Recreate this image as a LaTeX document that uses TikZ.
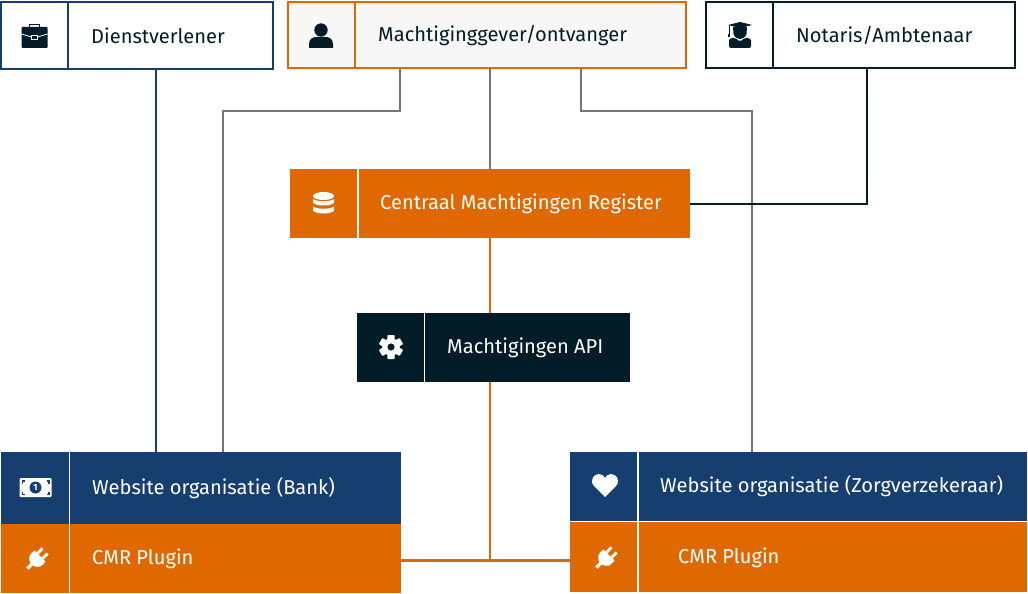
\documentclass[tikz,border=0pt]{standalone}
\usepackage{fontspec}
\setmainfont{Fira Sans}
\definecolor{navy}{HTML}{163F70}
\definecolor{ora}{HTML}{DF6900}
\definecolor{ink}{HTML}{021C28}
\definecolor{gry}{HTML}{757575}
\definecolor{pale}{HTML}{F7F7F7}
\tikzset{
  x=1pt,y=-1pt,
  box/.style={draw=#1,line width=2pt,fill=white},
  fbox/.style={fill=#1},
  lab/.style={anchor=west,inner sep=0pt,font=\fontsize{20.1}{24}\selectfont,text=#1},
  link/.style={draw=#1,line width=2.2pt},
  ic/.style={fill=#1,draw=none},
}
\newcommand{\bx}[6]{% name, x1,y1,x2,y2, options
  \path[#6] (#2,#3) rectangle (#4,#5);
  \coordinate (#1-nw) at (#2,#3);
  \coordinate (#1-se) at (#4,#5);
}
\begin{document}
\begin{tikzpicture}
\useasboundingbox[fill=white] (0,0) rectangle (1028,594);
% anchors
\coordinate (d) at (156,69);
\coordinate (m1) at (400,69);
\coordinate (m2) at (490,69);
\coordinate (m3) at (581,69);
\coordinate (n) at (867,68);
\coordinate (bt) at (156,452);
\coordinate (bt2) at (223,452);
\coordinate (zt) at (752,452);
\coordinate (ct) at (490,169);
\coordinate (cb) at (490,238);
\coordinate (cr) at (690,204);
\coordinate (at) at (490,313);
\coordinate (ab) at (490,382);
\coordinate (pl) at (401,560.5);
\coordinate (pr) at (570,560.5);
\coordinate (j) at (490,560.5);
% connectors
\draw[link=navy] (d) -- (bt);
\draw[link=gry] (m1) -- ++(0,42) -| (bt2);
\draw[link=gry] (m2) -- (ct);
\draw[link=gry] (m3) -- ++(0,42) -| (zt);
\draw[link=ink] (cr) -| (n);
\draw[link=ora] (cb) -- (at);
\draw[link=ora] (ab) -- (j);
\draw[link=ora] (pl) -- (pr);
% boxes
\bx{b1}{1}{2}{273}{69}{box=navy}
\draw[navy,line width=2pt] (68,2) -- (68,69);
\bx{b2}{288}{2}{686}{68}{draw=ora,line width=2pt,fill=pale}
\draw[ora,line width=2pt] (355,2) -- (355,68);
\bx{b3}{706}{2}{1015}{68}{box=ink}
\draw[ink,line width=2pt] (773,2) -- (773,68);
\bx{b4}{290}{169}{690}{238}{fbox=ora}
\draw[white,line width=2pt] (357.5,169) -- (357.5,238);
\bx{b5}{357}{313}{630}{382}{fbox=ink}
\draw[white,line width=1.6pt] (424.5,313) -- (424.5,382);
\bx{b6}{1}{452}{401}{523.5}{fbox=navy}
\bx{b7}{1}{523.5}{401}{593}{fbox=ora}
\draw[white,line width=1.6pt] (69.5,452) -- (69.5,593);
\bx{b8}{570}{452}{1027}{521}{fbox=navy}
\bx{b9}{570}{522}{1027}{592}{fbox=ora}
\draw[white,line width=2pt] (638,452) -- (638,592);
\draw[white,line width=1pt] (570,521.5) -- (1027,521.5);
% labels
\node[lab=ink] (t1) at (91,36) {Dienstverlener};
\node[lab=ink] (t2) at (378,36) {Machtiginggever/ontvanger};
\node[lab=ink] (t3) at (796,35) {Notaris/Ambtenaar};
\node[lab=white] (t4) at (380,204) {Centraal Machtigingen Register};
\node[lab=white] (t5) at (447,348) {Machtigingen API};
\node[lab=white] (t6) at (92,488) {Website organisatie (Bank)};
\node[lab=white] (t7) at (92,559) {CMR Plugin};
\node[lab=white] (t8) at (660,486.5) {Website organisatie (Zorgverzekeraar)};
\node[lab=white] (t9) at (678,558) {CMR Plugin};
% briefcase
\begin{scope}[shift={(34.5,36)}]
  \draw[ink,line width=1.4pt] (-5,-9) -- (-5,-11.5) -- (5,-11.5) -- (5,-9);
  \fill[ink,rounded corners=1pt] (-13,-9) rectangle (13,12);
  \draw[white,line width=.8pt] (-13,-2) -- (-3,1) (3,1) -- (13,-2);
  \draw[white,line width=.8pt] (-3,-.5) rectangle (3,3);
\end{scope}
% person
\begin{scope}[shift={(321,36)}]
  \fill[ink] (0,-6) circle (6.7);
  \fill[ink] (-12,12) -- (-12,8) .. controls (-12,2) and (-7,1) .. (-4,1) -- (4,1) .. controls (7,1) and (12,2) .. (12,8) -- (12,12) -- cycle;
\end{scope}
% graduate
\begin{scope}[shift={(740,35)}]
  \fill[ink] (-12,-10) -- (0,-13) -- (12,-10) -- (0,-7) -- cycle;
  \fill[ink] (-7,-8) -- (7,-8) -- (6.5,-1) .. controls (5,3) and (2,4) .. (0,4) .. controls (-2,4) and (-5,3) .. (-6.5,-1) -- cycle;
  \fill[ink] (-11.5,-10) rectangle (-10.5,-1);
  \fill[ink] (-12,-1) rectangle (-10,2);
  \fill[ink,rounded corners=2pt] (-11,13) -- (-11,7) .. controls (-11,4) and (-8,3) .. (-5,2.5) -- (0,7) -- (5,2.5) .. controls (8,3) and (11,4) .. (11,7) -- (11,13) -- cycle;
\end{scope}
% database
\begin{scope}[shift={(323.5,203.5)}]
  \fill[white] (0,-7.5) ellipse (10.5 and 4);
  \fill[white] (-10.5,-4.5) .. controls (-7,-1.5) and (7,-1.5) .. (10.5,-4.5) -- (10.5,-1) .. controls (8,3) and (-8,3) .. (-10.5,-1) -- cycle;
  \fill[white] (-10.5,3) .. controls (-7,6) and (7,6) .. (10.5,3) -- (10.5,7) .. controls (8,11) and (-8,11) .. (-10.5,7) -- cycle;
\end{scope}
% gear
\begin{scope}[shift={(391,347)}]
  \foreach \a in {0,60,...,300}
    \fill[white,rotate=\a,rounded corners=.8pt] (-3.6,-12) rectangle (3.6,-6);
  \fill[white,even odd rule] (0,0) circle (8.8) (0,0) circle (3.7);
\end{scope}
% banknote
\begin{scope}[shift={(35.5,487.5)}]
  \fill[white,rounded corners=1pt] (-16,-9.5) rectangle (16,9.5);
  \fill[navy] (0,0) ellipse (6 and 6);
  \node[inner sep=0pt,text=white,font=\fontsize{9}{9}\selectfont\bfseries] (n1) at (0,0) {1};
  \foreach \sx/\sy in {-1/-1,1/-1,-1/1,1/1}{
    \fill[navy] (\sx*14,\sy*7.5) rectangle (\sx*11,\sy*6);
    \fill[navy] (\sx*14,\sy*7.5) rectangle (\sx*12.5,\sy*4);
  }
\end{scope}
% heart
\begin{scope}[shift={(605,485)}]
  \fill[white] (0,12) -- (-11,1) .. controls (-16,-5) and (-11,-11) .. (-6,-11) .. controls (-3,-11) and (-1,-9) .. (0,-7) .. controls (1,-9) and (3,-11) .. (6,-11) .. controls (11,-11) and (16,-5) .. (11,1) -- cycle;
\end{scope}
% plugs
\foreach \px/\py in {38/558,607/557}{
\begin{scope}[shift={(\px,\py)},rotate=-45]
  \fill[white,rounded corners=1pt] (-8,-3) -- (8,-3) -- (8,1) .. controls (8,6) and (4,8) .. (2,9) -- (-2,9) .. controls (-4,8) and (-8,6) .. (-8,1) -- cycle;
  \fill[white] (-5,-10) rectangle (-2.2,-3);
  \fill[white] (2.2,-10) rectangle (5,-3);
  \fill[white] (-1.7,9) rectangle (1.7,15);
\end{scope}}
\end{tikzpicture}
\end{document}
